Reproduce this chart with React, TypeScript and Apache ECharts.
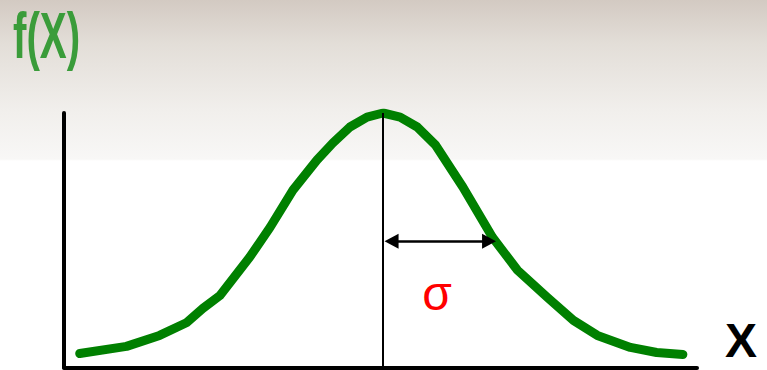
import React, { useEffect, useRef } from "react";
import * as echarts from "echarts";

// Curve, in units of sigma around the mean (x) and relative height (y)
const curveX = [-2.66, -2.25, -1.96, -1.72, -1.58, -1.43, -1.17, -0.99, -0.79, -0.58, -0.44, -0.29, -0.14, 0, 0.15, 0.3, 0.46, 0.7, 0.96, 1.18, 1.44, 1.67, 1.88, 2.17, 2.4, 2.63];
const curveY = [0.055, 0.083, 0.126, 0.177, 0.232, 0.283, 0.433, 0.551, 0.697, 0.815, 0.882, 0.945, 0.984, 1.0, 0.984, 0.945, 0.874, 0.709, 0.512, 0.382, 0.276, 0.185, 0.126, 0.079, 0.059, 0.051];
const meanX = 0;
const arrowStart = 0.075;
const arrowEnd = 0.93;
const arrowLevel = 0.496;
const titleText = "f(X)";
const axisText = "X";
const sigmaText = "σ";

export default function App() {
  const ref = useRef<HTMLDivElement>(null);
  useEffect(() => {
    if (!ref.current) return;
    const chart = echarts.init(ref.current, null, { renderer: "svg" });
    const data = curveX.map((x, i) => [x, curveY[i]]);
    chart.setOption({
      animation: false,
      backgroundColor: new echarts.graphic.LinearGradient(0, 0, 0, 1, [
        { offset: 0, color: "#d3cac2" },
        { offset: 0.12, color: "#e3ded8" },
        { offset: 0.3, color: "#f1efec" },
        { offset: 0.43, color: "#f8f7f6" },
        { offset: 0.435, color: "#ffffff" },
        { offset: 1, color: "#ffffff" },
      ]),
      grid: { left: 64, top: 113, height: 254.5, width: 633 },
      xAxis: {
        type: "value",
        min: -2.798,
        max: 2.754,
        axisLine: { show: true, onZero: false, lineStyle: { color: "#000", width: 4 } },
        axisTick: { show: false },
        axisLabel: { show: false },
        splitLine: { show: false },
      },
      yAxis: {
        type: "value",
        min: 0,
        max: 1,
        axisLine: { show: true, onZero: false, lineStyle: { color: "#000", width: 4, cap: "round" } },
        axisTick: { show: false },
        axisLabel: { show: false },
        splitLine: { show: false },
      },
      series: [
        {
          type: "line",
          data,
          symbol: "none",
          smooth: false,
          silent: true,
          lineStyle: { color: "#008000", width: 9, cap: "round", join: "round" },
          markLine: {
            silent: true,
            symbol: "none",
            label: { show: false },
            lineStyle: { color: "#000", width: 2, type: "solid" },
            data: [{ xAxis: meanX }],
            z: 5,
          },
        },
        {
          type: "line",
          data: [],
          silent: true,
          markLine: {
            silent: true,
            symbol: ["triangle", "triangle"],
            symbolSize: [15, 14],
            label: { show: false },
            lineStyle: { color: "#000", width: 2.5, type: "solid" },
            data: [[{ coord: [arrowStart, arrowLevel] }, { coord: [arrowEnd, arrowLevel] }]],
          },
        },
      ],
      graphic: [
        {
          type: "text",
          left: 13,
          top: 4,
          scaleX: 0.63,
          style: {
            text: titleText,
            fill: "#3a9c3a",
            font: "bold 64px 'Liberation Sans Narrow', 'Liberation Sans', sans-serif",
          },
        },
        {
          type: "text",
          x: 741,
          y: 340,
          style: {
            text: axisText,
            fill: "#000",
            align: "center",
            verticalAlign: "middle",
            font: "bold 48px 'Liberation Sans', Arial, sans-serif",
          },
        },
        {
          type: "text",
          x: 437,
          y: 293,
          style: {
            text: sigmaText,
            fill: "#ff0000",
            align: "center",
            verticalAlign: "middle",
            font: "48px 'Liberation Sans', Arial, sans-serif",
          },
        },
      ],
    });
    return () => chart.dispose();
  }, []);
  return (
    <div
      ref={ref}
      style={{ position: "absolute", left: 0, top: 0, width: 767, height: 370 }}
    />
  );
}
